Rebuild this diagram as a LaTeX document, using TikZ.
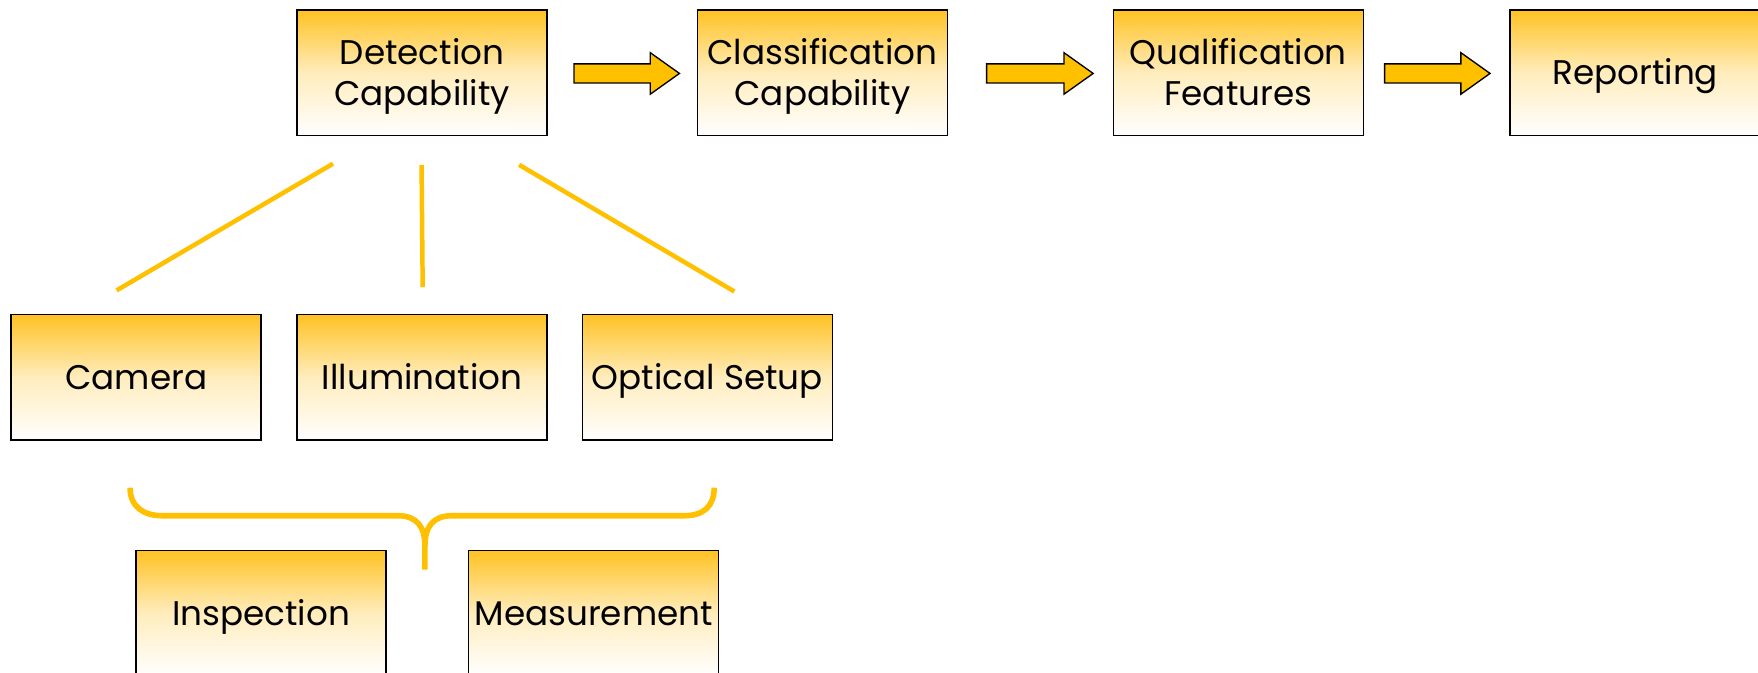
\documentclass[tikz,border=0pt]{standalone}
\usepackage{fontspec}
\setmainfont{Poppins}
\definecolor{gold}{RGB}{255,192,0}
\definecolor{boxtop}{RGB}{255,194,35}
\tikzset{
  box/.style={draw=black, line width=1.4pt, minimum width=223pt, minimum height=112pt,
    inner sep=0pt, align=center, top color=boxtop, bottom color=white,
    middle color=boxtop!30!white, font=\fontsize{30.5}{37}\selectfont,
    text height=21.5pt, text depth=0pt},
  twoline/.style={text height=58.5pt},
  conn/.style={draw=gold, line width=4pt},
  brace/.style={draw=gold, line width=5pt},
  blk/.style={draw=black, fill=gold, line width=1.2pt, line join=miter}
}
\newcommand{\blkarrow}[2]{%
  \draw[blk] (#1,57) -- (#2-26,57) -- (#2-26,47) -- (#2,65.5) -- (#2-26,84) -- (#2-26,74) -- (#1,74) -- cycle;}
\begin{document}
\begin{tikzpicture}[x=1pt,y=-1pt]
\useasboundingbox (0,0) rectangle (1568,600);
\node[box,twoline] (det) at (376.5,65) {Detection\\Capability};
\node[box,twoline] (cls) at (733.5,65) {Classification\\Capability};
\node[box,twoline] (qua) at (1104.5,65) {Qualification\\Features};
\node[box] (rep) at (1458.5,65) {Reporting};
\node[box] (cam) at (121.5,336.5) {Camera};
\node[box] (ill) at (376.5,336.5) {Illumination};
\node[box] (opt) at (631,336.5) {Optical Setup};
\node[box] (ins) at (233,547) {Inspection};
\node[box] (mea) at (529.5,547) {Measurement};
\blkarrow{512}{606}
\blkarrow{880}{975}
\blkarrow{1235}{1329}
\coordinate (d1) at (297,146); \coordinate (c1) at (104,259);
\coordinate (d2) at (376,147); \coordinate (c2) at (377,256);
\coordinate (d3) at (463,147); \coordinate (c3) at (655,260);
\draw[conn] (d1) -- (c1);
\draw[conn] (d2) -- (c2);
\draw[conn] (d3) -- (c3);
\draw[brace] (116,435) .. controls (116,452) and (128,460) .. (145,460) -- (355,460)
  .. controls (372,460) and (379,470) .. (379,487) -- (379,508);
\draw[brace] (379,487) .. controls (379,470) and (386,460) .. (403,460) -- (610,460)
  .. controls (627,460) and (637,452) .. (637,435);
\end{tikzpicture}
\end{document}
